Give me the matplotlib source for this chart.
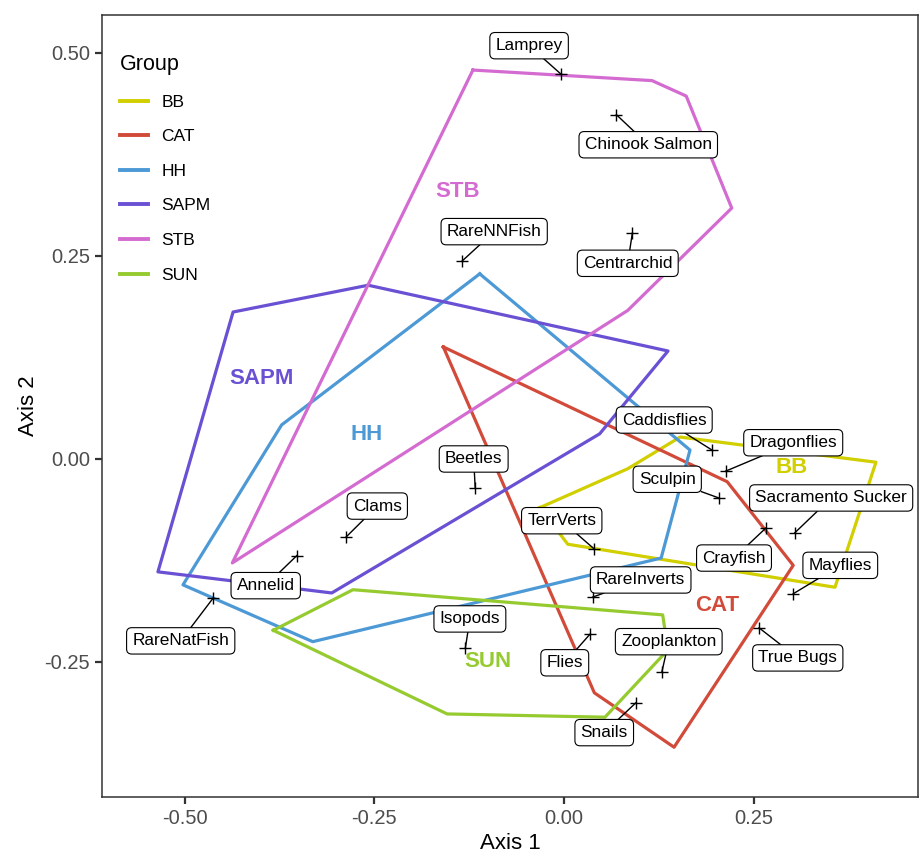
import numpy as np
import matplotlib
matplotlib.use("Agg")
import matplotlib.pyplot as plt
from matplotlib.lines import Line2D

plt.rcParams["font.family"] = ["Liberation Sans", "DejaVu Sans"]

# group hulls (axis 1, axis 2)
groups = ["BB", "CAT", "HH", "SAPM", "STB", "SUN"]
colors = ["#d1cf00", "#d24b3a", "#4c99d6", "#6a50d3", "#d46bd1", "#96cb30"]

hull_BB_x = [-0.032, 0.084, 0.153, 0.411, 0.357, 0.005]
hull_BB_y = [-0.060, -0.012, 0.027, -0.004, -0.158, -0.105]
hull_CAT_x = [-0.159, 0.215, 0.302, 0.145, 0.040]
hull_CAT_y = [0.138, -0.028, -0.131, -0.355, -0.288]
hull_HH_x = [-0.111, 0.166, 0.128, -0.331, -0.502, -0.372]
hull_HH_y = [0.228, 0.011, -0.122, -0.225, -0.155, 0.042]
hull_SAPM_x = [-0.258, 0.137, 0.047, -0.306, -0.535, -0.436]
hull_SAPM_y = [0.214, 0.133, 0.031, -0.165, -0.139, 0.181]
hull_STB_x = [-0.120, 0.116, 0.161, 0.221, 0.084, -0.437]
hull_STB_y = [0.479, 0.466, 0.447, 0.309, 0.183, -0.128]
hull_SUN_x = [-0.383, -0.278, 0.130, 0.137, 0.054, -0.154]
hull_SUN_y = [-0.211, -0.161, -0.192, -0.235, -0.318, -0.314]

hulls_x = [hull_BB_x, hull_CAT_x, hull_HH_x, hull_SAPM_x, hull_STB_x, hull_SUN_x]
hulls_y = [hull_BB_y, hull_CAT_y, hull_HH_y, hull_SAPM_y, hull_STB_y, hull_SUN_y]

# group name label positions
group_lab_x = [0.300, 0.202, -0.260, -0.399, -0.140, -0.100]
group_lab_y = [-0.011, -0.181, 0.030, 0.099, 0.329, -0.249]

# species scores
species = ["Lamprey", "Chinook Salmon", "RareNNFish", "Centrarchid", "Caddisflies",
           "Dragonflies", "Sculpin", "Sacramento Sucker", "Crayfish", "Mayflies",
           "True Bugs", "Zooplankton", "RareInverts", "TerrVerts", "Beetles",
           "Clams", "Annelid", "RareNatFish", "Isopods", "Flies", "Snails"]
sp_x = [-0.004, 0.069, -0.134, 0.090, 0.195, 0.213, 0.204, 0.304, 0.266, 0.302,
        0.257, 0.129, 0.038, 0.040, -0.117, -0.287, -0.352, -0.462, -0.130, 0.034, 0.095]
sp_y = [0.474, 0.424, 0.244, 0.278, 0.011, -0.015, -0.048, -0.091, -0.085, -0.166,
        -0.208, -0.262, -0.170, -0.111, -0.036, -0.096, -0.119, -0.171, -0.233, -0.216, -0.300]
# repelled label centres
lab_x = [-0.046, 0.111, -0.092, 0.084, 0.132, 0.302, 0.136, 0.352, 0.224, 0.364,
         0.308, 0.138, 0.101, -0.003, -0.119, -0.246, -0.393, -0.505, -0.124, 0.001, 0.053]
lab_y = [0.509, 0.387, 0.280, 0.241, 0.048, 0.020, -0.025, -0.048, -0.122, -0.131,
         -0.245, -0.225, -0.149, -0.076, 0.000, -0.058, -0.156, -0.224, -0.197, -0.251, -0.337]

fig = plt.figure(figsize=(9.2, 8.55), dpi=100)
ax = fig.add_axes([102 / 920, 58 / 855, 816 / 920, 782 / 855])

for g, c, hx, hy in zip(groups, colors, hulls_x, hulls_y):
    ax.plot(hx + hx[:1], hy + hy[:1], color=c, lw=2.3, solid_joinstyle="round", zorder=2)

for g, c, gx, gy in zip(groups, colors, group_lab_x, group_lab_y):
    ax.text(gx, gy, g, color=c, fontsize=16, fontweight="bold", ha="center", va="center", zorder=3)

ax.plot(sp_x, sp_y, linestyle="none", marker="+", markersize=8, markeredgewidth=1.0,
        color="black", zorder=4)

texts = []
for name, lx, ly in zip(species, lab_x, lab_y):
    t = ax.text(lx, ly, name, fontsize=12.4, ha="center", va="center", zorder=6,
                bbox=dict(boxstyle="round,pad=0.33,rounding_size=0.3", fc="white", ec="black", lw=0.8))
    texts.append(t)

ax.set_xlim(-0.6087, 0.4664)
ax.set_ylim(-0.4163, 0.5468)
ax.set_xticks([-0.50, -0.25, 0.00, 0.25])
ax.set_xticklabels(["-0.50", "-0.25", "0.00", "0.25"])
ax.set_yticks([-0.25, 0.00, 0.25, 0.50])
ax.set_yticklabels(["-0.25", "0.00", "0.25", "0.50"])
ax.tick_params(labelsize=14.5, labelcolor="#4d4d4d", color="#333333", length=5, width=1.6)
for s in ax.spines.values():
    s.set_color("#333333")
    s.set_linewidth(1.1)
ax.set_xlabel("Axis 1", fontsize=16, labelpad=4)
ax.set_ylabel("Axis 2", fontsize=16, labelpad=4)

handles = [Line2D([], [], color=c, lw=2.8) for c in colors]
leg = ax.legend(handles, groups, title="Group", loc="upper left", bbox_to_anchor=(0.022, 0.950),
                frameon=False, fontsize=12.5, title_fontsize=15.5, handlelength=1.6,
                handletextpad=0.8, labelspacing=1.12, borderpad=0, borderaxespad=0,
                alignment="left")

# leader segments: from each point towards its label centre, stopping at the box edge
fig.canvas.draw()
renderer = fig.canvas.get_renderer()
inv = ax.transData.inverted()
for t, px, py, lx, ly in zip(texts, sp_x, sp_y, lab_x, lab_y):
    bb = t.get_bbox_patch().get_window_extent(renderer)
    p = ax.transData.transform((px, py))
    c = ax.transData.transform((lx, ly))
    d = c - p
    tmin = []
    for k, (lo, hi) in enumerate([(bb.x0, bb.x1), (bb.y0, bb.y1)]):
        if abs(d[k]) < 1e-9:
            tmin.append(-np.inf)
        else:
            tmin.append(min((lo - p[k]) / d[k], (hi - p[k]) / d[k]))
    te = max(tmin)
    if te <= 0:
        continue
    e = inv.transform(p + te * d)
    ax.plot([px, e[0]], [py, e[1]], color="black", lw=1.0, zorder=5)

fig.savefig("out.png", dpi=100)
